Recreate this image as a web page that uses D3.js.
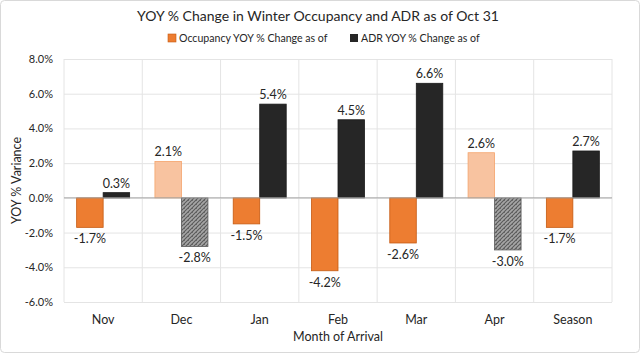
<!DOCTYPE html>
<html lang="en">
  <head>
    <meta charset="UTF-8" />
    <title>YOY % Change</title>
    <style>
      body { margin: 0; background: #fff; }
      text { font-family: Lato, "Open Sans", sans-serif; fill: #262626; }
      .grid line { stroke: #e4e4e4; }
      .grid path { display: none; }
    </style>
  </head>
  <body>
    <svg id="chart" width="640" height="353"></svg>
  </body>
  <script src="https://cdn.jsdelivr.net/npm/d3@7"></script>
  <script>
    // chart values
    let months = ["Nov", "Dec", "Jan", "Feb", "Mar", "Apr", "Season"];
    let occupancy = [-1.7, 2.1, -1.5, -4.2, -2.6, 2.6, -1.7];
    let adr = [0.3, -2.8, 5.4, 4.5, 6.6, -3.0, 2.7];
    let yTicks = [-6, -4, -2, 0, 2, 4, 6, 8];
    let seriesNames = ["Occupancy YOY % Change as of", "ADR YOY % Change as of"];

    let svg = d3.select("#chart");
    let plotLeft = 64, plotRight = 612, plotTop = 59, plotBottom = 302;

    // outer frame
    svg.append("rect").attr("x", 0.5).attr("y", 0.5).attr("width", 639).attr("height", 352)
      .attr("rx", 4).attr("fill", "#fff").attr("stroke", "#d9d9d9");

    // fine hatch for negative ADR bars
    let defs = svg.append("defs");
    let pat = defs.append("pattern").attr("id", "hatch").attr("patternUnits", "userSpaceOnUse")
      .attr("width", 4).attr("height", 4);
    pat.append("rect").attr("width", 4).attr("height", 4).attr("fill", "#a6a6a6");
    pat.append("path").attr("d", "M0,4 L4,0 M-1,1 L1,-1 M3,5 L5,3")
      .attr("stroke", "#5a5a5a").attr("stroke-width", 1.1);
    pat.append("rect").attr("x", 0).attr("y", 0).attr("width", 1).attr("height", 1).attr("fill", "#6a6a6a");

    let x = d3.scaleBand().domain(months).range([plotLeft, plotRight]);
    let y = d3.scaleLinear().domain([-6, 8]).range([plotBottom, plotTop]);

    // horizontal gridlines
    svg.append("g").attr("class", "grid").attr("transform", "translate(" + plotLeft + ",0)")
      .call(d3.axisLeft(y).tickValues(yTicks).tickSize(-(plotRight - plotLeft)).tickFormat(""));

    // vertical gridlines at category boundaries
    svg.append("g").selectAll("line").data(months.concat(["end"])).join("line")
      .attr("x1", (d, i) => plotLeft + i * x.step()).attr("x2", (d, i) => plotLeft + i * x.step())
      .attr("y1", plotTop).attr("y2", plotBottom).attr("stroke", "#e4e4e4");

    // y tick labels
    svg.append("g").selectAll("text").data(yTicks).join("text")
      .attr("x", 53).attr("y", d => y(d) + 4).attr("text-anchor", "end")
      .attr("font-size", 11).text(d => d.toFixed(1) + "%");

    let barW = 26.5;
    let data = months.map((m, i) => ({ m: m, occ: occupancy[i], adr: adr[i] }));

    // occupancy bars
    svg.append("g").selectAll("rect").data(data).join("rect")
      .attr("x", d => x(d.m) + x.step() / 2 - barW)
      .attr("y", d => y(Math.max(0, d.occ)))
      .attr("width", barW)
      .attr("height", d => Math.abs(y(d.occ) - y(0)))
      .attr("fill", d => d.occ < 0 ? "#ed7d31" : "#f8c3a0")
      .attr("stroke", d => d.occ < 0 ? "#c55a11" : "#f4a46c")
      .attr("stroke-width", 0.8);

    // ADR bars
    svg.append("g").selectAll("rect").data(data).join("rect")
      .attr("x", d => x(d.m) + x.step() / 2)
      .attr("y", d => y(Math.max(0, d.adr)))
      .attr("width", barW)
      .attr("height", d => Math.abs(y(d.adr) - y(0)))
      .attr("fill", d => d.adr < 0 ? "url(#hatch)" : "#262626")
      .attr("stroke", d => d.adr < 0 ? "#595959" : "#1a1a1a")
      .attr("stroke-width", 0.8);

    // zero line
    svg.append("line").attr("x1", plotLeft).attr("x2", plotRight).attr("y1", y(0)).attr("y2", y(0))
      .attr("stroke", "#a6a6a6");

    // data labels
    let labelY = v => v >= 0 ? y(v) - 5 : y(v) + 16;
    svg.append("g").selectAll("text").data(data).join("text")
      .attr("x", d => x(d.m) + x.step() / 2 - barW / 2).attr("y", d => labelY(d.occ))
      .attr("text-anchor", "middle").attr("font-size", 12.5).text(d => d.occ.toFixed(1) + "%");
    svg.append("g").selectAll("text").data(data).join("text")
      .attr("x", d => x(d.m) + x.step() / 2 + barW / 2).attr("y", d => labelY(d.adr))
      .attr("text-anchor", "middle").attr("font-size", 12.5).text(d => d.adr.toFixed(1) + "%");

    // category labels
    svg.append("g").selectAll("text").data(months).join("text")
      .attr("x", d => x(d) + x.step() / 2).attr("y", 324).attr("text-anchor", "middle")
      .attr("font-size", 12.5).text(d => d);

    // axis titles
    svg.append("text").attr("x", (plotLeft + plotRight) / 2).attr("y", 341).attr("text-anchor", "middle")
      .attr("font-size", 12.5).text("Month of Arrival");
    svg.append("text").attr("transform", "translate(21," + (plotTop + plotBottom) / 2 + ") rotate(-90)")
      .attr("text-anchor", "middle").attr("font-size", 12.5).text("YOY % Variance");

    // title
    svg.append("text").attr("x", 318).attr("y", 21).attr("text-anchor", "middle")
      .attr("font-size", 14).text("YOY % Change in Winter Occupancy and ADR as of Oct 31");

    // legend
    let lg = svg.append("g");
    lg.append("rect").attr("x", 168).attr("y", 34).attr("width", 8).attr("height", 8)
      .attr("fill", "#ed7d31").attr("stroke", "#c55a11").attr("stroke-width", 0.6);
    lg.append("text").attr("x", 179).attr("y", 42).attr("font-size", 10.6).text(seriesNames[0]);
    lg.append("rect").attr("x", 350).attr("y", 34).attr("width", 8).attr("height", 8)
      .attr("fill", "#262626");
    lg.append("text").attr("x", 361).attr("y", 42).attr("font-size", 10.6).text(seriesNames[1]);
  </script>
</html>
